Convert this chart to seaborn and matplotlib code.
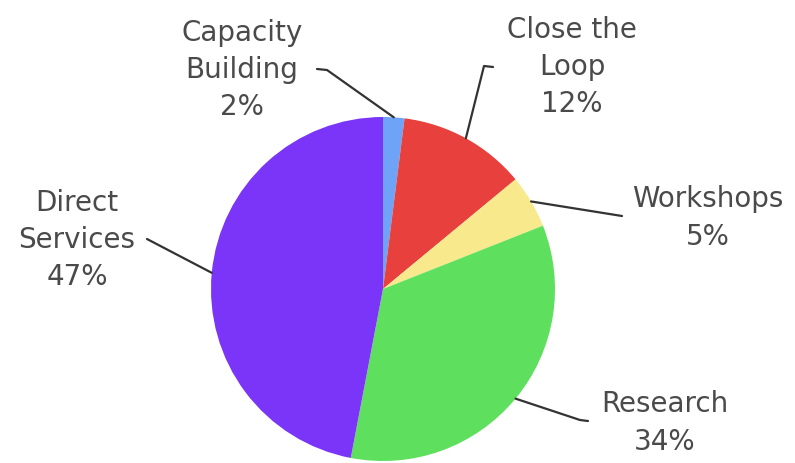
import numpy as np
import matplotlib
matplotlib.use("Agg")
import matplotlib.pyplot as plt
import seaborn as sns

categories = ["Capacity Building", "Close the Loop", "Workshops", "Research", "Direct Services"]
label_text = ["Capacity\nBuilding\n2%", "Close the\nLoop\n12%", "Workshops\n5%", "Research\n34%", "Direct\nServices\n47%"]
shares = [2, 12, 5, 34, 47]
colors = ["#6fa3f7", "#e8403c", "#f8e98c", "#5ee05e", "#7a35f8"]

sns.set_theme(style="white")
plt.rcParams['font.family'] = ['DejaVu Sans']

W, H = 795, 464
fig = plt.figure(figsize=(7.95, 4.64), dpi=100)
ax = fig.add_axes([0, 0, 1, 1])

cx, cy, R = 383, H - 290, 172
wedges, _ = ax.pie(shares, colors=colors, startangle=90, counterclock=False,
                   center=(cx, cy), radius=R, frame=True,
                   wedgeprops=dict(linewidth=0))
ax.set_xlim(0, W)
ax.set_ylim(0, H)
ax.set_aspect('equal')
ax.axis('off')

# label layout (pixel coords from top): text centre, leader path on the text side
text_pos = [(242, 70), (572, 67), (708, 218), (665, 423), (77, 240)]
leader_pts = [[(317, 70), (327, 71)],
              [(493, 68), (484, 67)],
              [(622, 217)],
              [(588, 422), (580, 421)],
              [(147, 240)]]

for w, lab, tp, pts in zip(wedges, label_text, text_pos, leader_pts):
    ang = np.deg2rad((w.theta1 + w.theta2) / 2)
    ex, ey = cx + R * np.cos(ang), cy + R * np.sin(ang)
    xs = [p[0] for p in pts] + [ex]
    ys = [H - p[1] for p in pts] + [ey]
    ax.plot(xs, ys, color="#333333", lw=1.6, solid_capstyle='round',
            solid_joinstyle='round')
    ax.text(tp[0], H - tp[1], lab, ha='center', va='center', fontsize=20,
            color="#4a4a4a", linespacing=1.42)

fig.savefig("out.png", dpi=100)
